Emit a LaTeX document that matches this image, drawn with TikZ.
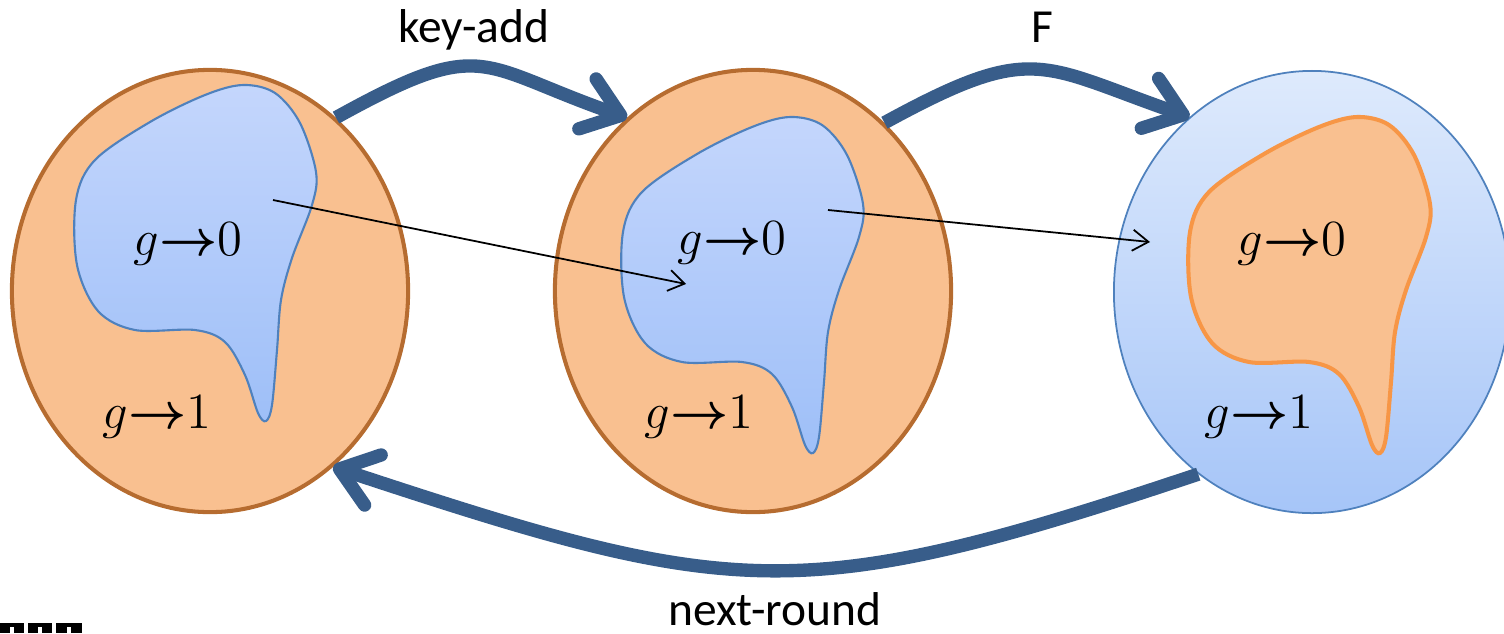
\documentclass[tikz,border=0pt]{standalone}
\usepackage{amsmath}
\usepackage{fontspec}
\newfontfamily\labelfont{Carlito}
\usetikzlibrary{arrows.meta,shapes.geometric}
\definecolor{setorange}{RGB}{249,192,144}
\definecolor{setbrown}{RGB}{182,108,48}
\definecolor{setnavy}{RGB}{56,93,138}
\definecolor{setblue}{RGB}{79,129,189}
\definecolor{setlineorange}{RGB}{247,150,70}
\definecolor{blobtop}{RGB}{196,214,252}
\definecolor{blobbottom}{RGB}{158,191,248}
\definecolor{ringtop}{RGB}{222,234,252}
\definecolor{ringbottom}{RGB}{166,197,248}
\newcommand{\blobpath}{plot[smooth cycle, tension=0.55] coordinates {(243,85) (275,93) (300,123) (316,172) (312,205) (292,258) (281,300) (277,350) (272,405) (266,421) (258,413) (245,375) (225,342) (195,330) (135,330) (98,311) (77,265) (76,200) (95,160) (150,122) (205,95)}}
\newcommand{\goes}[1]{$g{\boldsymbol{\rightarrow}}#1$}

\begin{document}
\begin{tikzpicture}[x=0.01cm, y=-0.01cm,
      setnode/.style={ellipse, minimum width=3.96cm, minimum height=4.42cm, inner sep=0pt},
      orangeset/.style={setnode, draw=setbrown, fill=setorange, line width=1.15pt},
      blueset/.style={setnode, draw=setblue, top color=ringtop, bottom color=ringbottom, line width=0.5pt},
      blueblob/.style={draw=setblue, line width=0.6pt, top color=blobtop, bottom color=blobbottom},
      orangeblob/.style={draw=setlineorange, line width=1.15pt, fill=setorange},
      maplabel/.style={anchor=base, inner sep=0pt, font=\fontsize{14}{16}\selectfont},
      steplabel/.style={anchor=base, inner sep=0pt, font=\labelfont\fontsize{13.5}{16}\selectfont},
      bigarrow/.style={setnavy, line width=3.8pt, -{Straight Barb[length=10pt, width=15pt, round]}},
      thinarrow/.style={black, line width=0.5pt, -{Straight Barb[length=4.5pt, width=6pt]}}
    ]
      \useasboundingbox (0,0) rectangle (1504,633);

      \node[orangeset] (before) at (210,291) {};
      \node[orangeset] (afteradd) at (753,291) {};
      \node[blueset] (afterf) at (1312,292) {};

      \draw[blueblob] \blobpath;
      \begin{scope}[shift={(547,32)}]
        \draw[blueblob] \blobpath;
      \end{scope}
      \begin{scope}[shift={(1114,32)}]
        \draw[orangeblob] \blobpath;
      \end{scope}

      \node[maplabel] (zeroA) at (188,255) {\goes{0}};
      \node[maplabel] (oneA) at (157,428) {\goes{1}};
      \node[maplabel] (zeroB) at (732,254) {\goes{0}};
      \node[maplabel] (oneB) at (699,428) {\goes{1}};
      \node[maplabel] (zeroC) at (1292,255) {\goes{0}};
      \node[maplabel] (oneC) at (1259,428) {\goes{1}};

      \coordinate (fromA) at (273,200);
      \coordinate (toB) at (686,284);
      \coordinate (fromB) at (828,210);
      \coordinate (toC) at (1150,242);
      \draw[thinarrow] (fromA) -- (toB);
      \draw[thinarrow] (fromB) -- (toC);

      \draw[bigarrow] (before.54) .. controls +(150,-83) and +(-150,-52) .. (afteradd.126);
      \draw[bigarrow] (afteradd.52) .. controls +(150,-82) and +(-150,-52) .. (afterf.125);
      \draw[bigarrow] (afterf.238) .. controls +(-400,134) and +(400,132) .. (before.305);

      \node[steplabel] (keyadd) at (474,42) {key-add};
      \node[steplabel] (flabel) at (1042,42) {F};
      \node[steplabel] (nextround) at (775,625) {next-round};

      \fill[black] (0,623) rectangle (24,633);
      \fill[black] (28,623) rectangle (52,633);
      \fill[black] (56,623) rectangle (82,633);
      \fill[white] (10,627) rectangle (14,633);
      \fill[white] (38,627) rectangle (42,633);
      \fill[white] (67,627) rectangle (71,633);
    \end{tikzpicture}
\end{document}
